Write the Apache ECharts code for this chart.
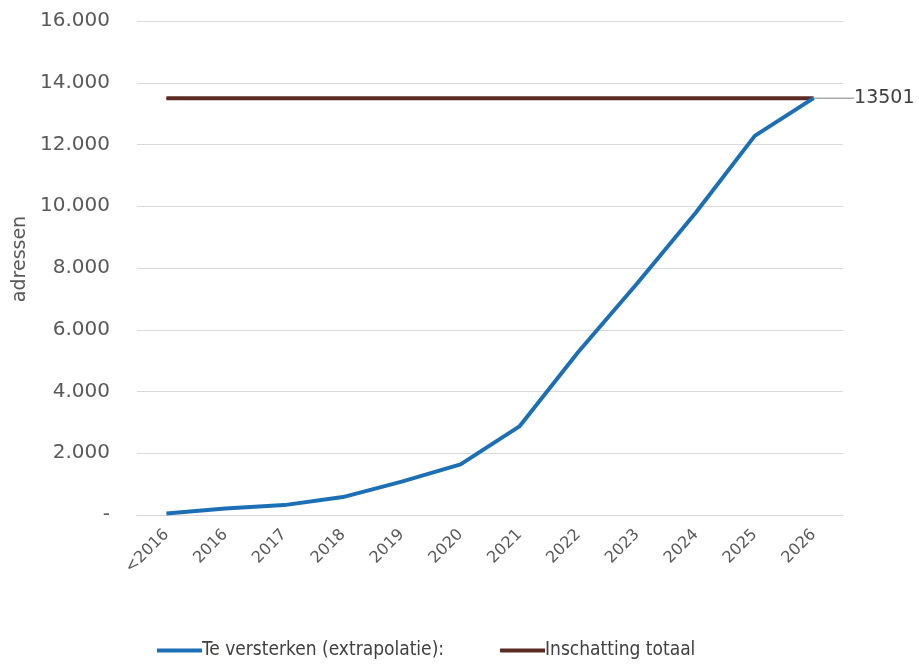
<!DOCTYPE html>
<html>
<head>
<meta charset="utf-8">
<script src="https://cdn.jsdelivr.net/npm/echarts@6/dist/echarts.min.js"></script>
<style>html,body{margin:0;padding:0;background:#fff}#c{width:919px;height:667px}</style>
</head>
<body>
<div id="c"></div>
<script>
const categories = ['<2016','2016','2017','2018','2019','2020','2021','2022','2023','2024','2025','2026'];
const versterken = [50, 210, 320, 580, 1080, 1640, 2870, 5280, 7500, 9800, 12280, 13501];
const totaal = [13501,13501,13501,13501,13501,13501,13501,13501,13501,13501,13501,13501];
const yTicks = [0, 2000, 4000, 6000, 8000, 10000, 12000, 14000, 16000];
const seriesNames = ['Te versterken (extrapolatie):', 'Inschatting totaal'];

const font = 'DejaVu Sans';
const chart = echarts.init(document.getElementById('c'), null, {renderer: 'canvas'});
const lastIdx = totaal.length - 1;
chart.setOption({
  animation: false,
  grid: {left: 137, right: 76, top: 21, bottom: 152},
  legend: {
    bottom: 2, left: 152,
    itemWidth: 45, itemHeight: 4, itemGap: 56,
    icon: 'rect',
    textStyle: {fontFamily: 'DejaVu Sans Condensed, ' + font, fontSize: 19, color: '#404040', padding: [0,0,0,-5]},
    data: seriesNames
  },
  xAxis: {
    type: 'category', data: categories, boundaryGap: true,
    axisLine: {lineStyle: {color: '#d9d9d9', width: 1}},
    axisTick: {show: false},
    axisLabel: {rotate: 45, interval: 0, margin: 17, fontFamily: font, fontSize: 16, color: '#595959'}
  },
  yAxis: {
    type: 'value', min: yTicks[0], max: yTicks[yTicks.length-1], interval: 2000,
    name: 'adressen', nameLocation: 'middle', nameGap: 105, nameRotate: 90,
    nameTextStyle: {fontFamily: font, fontSize: 19, color: '#595959', padding: [0,0,0,18]},
    axisLine: {show: false}, axisTick: {show: false},
    splitLine: {lineStyle: {color: '#d9d9d9', width: 1}},
    axisLabel: {
      margin: 27, fontFamily: font, fontSize: 20, color: '#595959',
      formatter: v => v === 0 ? '-' : String(v).replace(/\B(?=(\d{3})+(?!\d))/g, '.')
    }
  },
  series: [
    {
      name: seriesNames[0], type: 'line', data: versterken,
      symbol: 'none', lineStyle: {color: '#1c6fb5', width: 4}, itemStyle: {color: '#1c6fb5'}, z: 3
    },
    {
      name: seriesNames[1], type: 'line',
      data: totaal.map((v, i) => i === lastIdx ? {value: v, label: {show: true}} : v),
      symbol: 'circle', symbolSize: 1, showSymbol: true,
      lineStyle: {color: '#5b2b22', width: 4}, itemStyle: {color: '#5b2b22'}, z: 2,
      label: {show: false, position: 'right', distance: 0, fontFamily: font, fontSize: 19, color: '#404040', padding: [0,0,0,10]},
      labelLayout: {dx: 30, dy: 0},
      labelLine: {show: true, lineStyle: {color: '#7f7f7f', width: 1}}
    }
  ]
});
</script>
</body>
</html>
